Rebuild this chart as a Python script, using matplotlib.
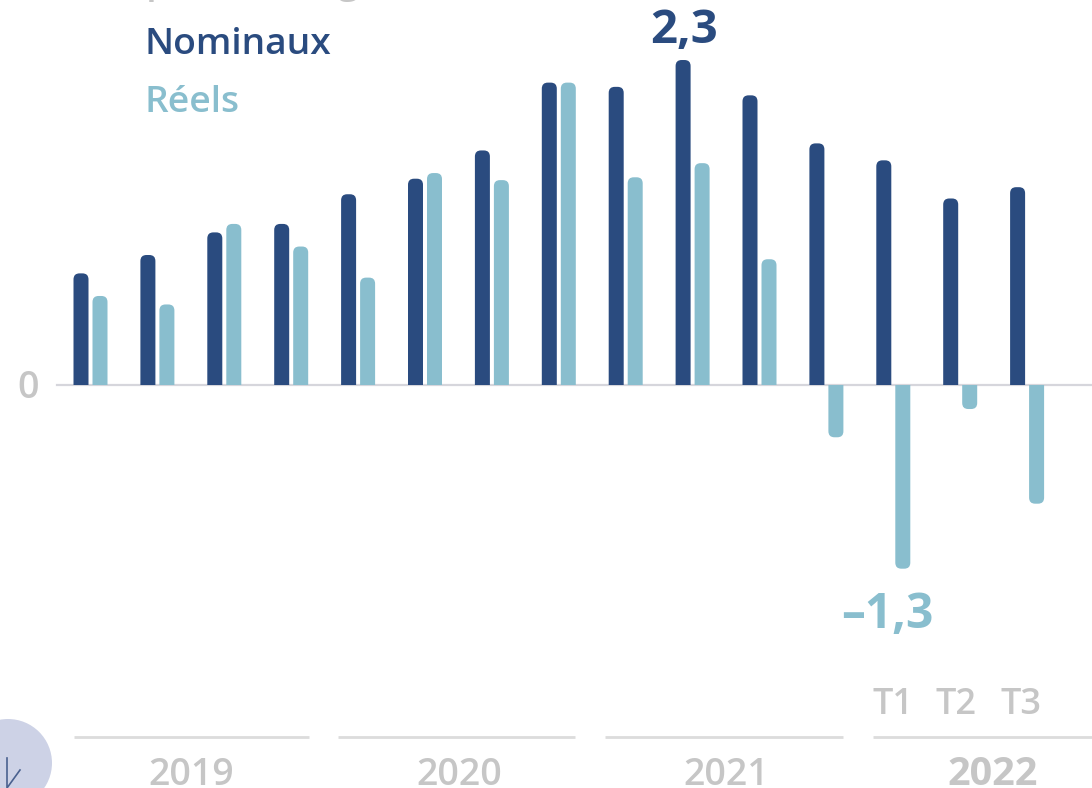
import numpy as np
import matplotlib
matplotlib.use('Agg')
import matplotlib.pyplot as plt
from matplotlib.patches import FancyBboxPatch, Ellipse, Rectangle

# salaires nominaux et reels, variation en %
quarters = list(range(15))
nominaux = [0.79, 0.92, 1.08, 1.14, 1.35, 1.46, 1.66, 2.14, 2.11, 2.30, 2.05, 1.71, 1.59, 1.32, 1.40]
reels = [0.63, 0.57, 1.14, 0.98, 0.76, 1.50, 1.45, 2.14, 1.47, 1.57, 0.89, -0.37, -1.30, -0.17, -0.84]
years = ['2019', '2020', '2021', '2022']
year_lines = [(74, 309), (338, 575), (605, 843), (873, 1092)]
year_centers = [191, 459, 726, 993]
t_labels = ['T1', 'T2', 'T3']
t_centers = [893, 956, 1021]

NAVY = '#2A4B7F'
TEAL = '#89BECE'
GREY = '#C6C6C6'
LINE = '#DCDCDC'

plt.rcParams['font.family'] = ['Open Sans', 'DejaVu Sans']

W, H = 1092, 788
fig = plt.figure(figsize=(W / 100, H / 100), dpi=100)
ax = fig.add_axes([0, 0, 1, 1])

# axes scaled so that one quarter = 66.9 px and one point = 141.3 px
PX_X, PX_Y = 66.9, 141.3
X0, Y0 = 90.5, 385
ax.set_xlim(-X0 / PX_X, (W - X0) / PX_X)
ax.set_ylim((Y0 - H) / PX_Y, Y0 / PX_Y)
ax.axis('off')


def xp(px):
    return (px - X0) / PX_X


def yp(py):
    return (Y0 - py) / PX_Y


def rounded_bar(x, v, color):
    width = 15 / PX_X
    # box runs past the baseline, the clip gives the square end
    over = 0.1 if v > 0 else -0.1
    box = FancyBboxPatch((x - width / 2, min(v, -over)), width, abs(v + over),
                         boxstyle='round,pad=0,rounding_size=0.09',
                         mutation_aspect=PX_X / PX_Y,
                         fc=color, ec='none', zorder=2)
    ax.add_patch(box)
    clip = Rectangle((x - width, min(v, 0) - 0.1 if v < 0 else 0), 2 * width, abs(v) + 0.1, transform=ax.transData)
    box.set_clip_path(clip)


for q, n, r in zip(quarters, nominaux, reels):
    rounded_bar(q - 9.5 / PX_X, n, NAVY)
    rounded_bar(q + 9.5 / PX_X, r, TEAL)

ax.plot([xp(57), xp(1092)], [0, 0], color='#D6D6DC', lw=1.6, zorder=1)
ax.text(xp(39), yp(398), '0', color=GREY, fontsize=27, fontweight='semibold', ha='right', va='baseline')

# legende (titre coupe en haut)
ax.text(xp(146), yp(-8), 'pourcentage', color=GREY, fontsize=28, fontweight='semibold', va='baseline', clip_on=False)
ax.text(xp(145), yp(54), 'Nominaux', color=NAVY, fontsize=26.8, fontweight='semibold', va='baseline')
ax.text(xp(145), yp(112), 'Réels', color=TEAL, fontsize=26.8, fontweight='semibold', va='baseline')

# valeurs extremes
ax.text(xp(684), yp(43), '2,3', color=NAVY, fontsize=34, fontweight='bold', ha='center', va='baseline')
ax.text(xp(887), yp(628), '–1,3', color=TEAL, fontsize=34.5, fontweight='bold', ha='center', va='baseline')

# trimestres et annees
for c, t in zip(t_centers, t_labels):
    ax.text(xp(c), yp(714), t, color=GREY, fontsize=26, fontweight='semibold', ha='center', va='baseline')

for (a, b), c, y in zip(year_lines, year_centers, years):
    ax.plot([xp(a), xp(b)], [yp(736.5)] * 2, color=LINE, lw=2, solid_capstyle='butt')
    ax.text(xp(c), yp(785), y, color=GREY, fontsize=27 if y != '2022' else 28.5,
            fontweight='bold' if y == '2022' else 'semibold', ha='center', va='baseline')

# icone en bas a gauche
ax.add_patch(Ellipse((xp(8), yp(763)), 88 / PX_X, 88 / PX_Y, fc='#CDD2E6', ec='none', zorder=1))
ax.plot([xp(7), xp(7), xp(20)], [yp(758), yp(788), yp(770)], color='#4A618F', lw=1.2, zorder=2)

plt.savefig('out.png', dpi=100)
